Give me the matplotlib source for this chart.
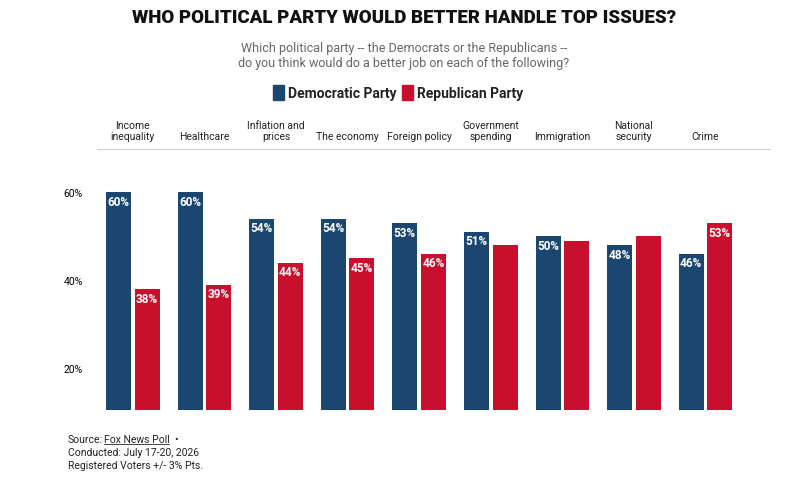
import numpy as np
import matplotlib.pyplot as plt

plt.rcParams["font.family"] = ["Roboto", "DejaVu Sans"]

issues = ["Income\ninequality", "Healthcare", "Inflation and\nprices", "The economy", "Foreign policy",
          "Government\nspending", "Immigration", "National\nsecurity", "Crime"]
dem = [60, 60, 54, 54, 53, 51, 50, 48, 46]
rep = [38, 39, 44, 45, 46, 48, 49, 50, 53]
dem_labels = ["60%", "60%", "54%", "54%", "53%", "51%", "50%", "48%", "46%"]
rep_labels = ["38%", "39%", "44%", "45%", "46%", "", "", "", "53%"]
yticks = [20, 40, 60]

blue = "#1b4670"
red = "#c8102e"

fig = plt.figure(figsize=(8.08, 4.85), dpi=100)
ax = fig.add_axes([97 / 808, 74 / 485, 673 / 808, 261 / 485])
x = np.arange(len(issues))
w = 0.35
off = 0.2
ax.bar(x - off, dem, w, color=blue)
ax.bar(x + off, rep, w, color=red)
for i in range(len(issues)):
    ax.text(x[i] - off, dem[i] - 0.6, dem_labels[i], ha="center", va="top",
            color="white", fontsize=8.5, fontweight="bold")
    if rep_labels[i]:
        ax.text(x[i] + off, rep[i] - 0.6, rep_labels[i], ha="center", va="top",
                color="white", fontsize=8.5, fontweight="bold")
    ax.text(x[i], 71.6, issues[i], ha="center", va="bottom", fontsize=7.5, color="#222222",
            linespacing=1.15)

ax.set_xlim(-0.5, 8.9)
ax.set_ylim(10.5, 69.8)
ax.set_yticks(yticks)
ax.set_yticklabels([f"{t}%" for t in yticks], fontsize=7.5)
ax.tick_params(length=0, pad=10)
ax.set_xticks([])
for s in ["left", "right", "bottom"]:
    ax.spines[s].set_visible(False)
ax.spines["top"].set_color("#cccccc")

fig.text(0.5, 0.963, "WHO POLITICAL PARTY WOULD BETTER HANDLE TOP ISSUES?", ha="center", va="center",
         fontsize=13.5, fontweight="black", color="#111111")
fig.text(0.5, 0.885, "Which political party -- the Democrats or the Republicans --\ndo you think would do a better job on each of the following?",
         ha="center", va="center", fontsize=9, color="#666666", linespacing=1.2)
fig.patches.append(plt.Rectangle((273 / 808, 1 - 101 / 485), 11 / 808, 15 / 485, color=blue, transform=fig.transFigure))
fig.text(288 / 808, 1 - 94 / 485, "Democratic Party", va="center", fontsize=10, fontweight="bold", color="#222222")
fig.patches.append(plt.Rectangle((402 / 808, 1 - 101 / 485), 11 / 808, 15 / 485, color=red, transform=fig.transFigure))
fig.text(417 / 808, 1 - 94 / 485, "Republican Party", va="center", fontsize=10, fontweight="bold", color="#222222")

fig.text(68 / 808, 1 - 440 / 485, "Source:", fontsize=7.5, color="#222222", va="center")
fig.text(104 / 808, 1 - 440 / 485, "Fox News Poll", fontsize=7.5, color="#222222", va="center")
fig.add_artist(plt.Line2D([104 / 808, 169 / 808], [1 - 445 / 485] * 2, color="#222222", lw=0.6))
fig.text(174 / 808, 1 - 440 / 485, "•", fontsize=7.5, color="#222222", va="center")
fig.text(68 / 808, 1 - 453 / 485, "Conducted: July 17-20, 2026", fontsize=7.5, color="#222222", va="center")
fig.text(68 / 808, 1 - 466 / 485, "Registered Voters +/- 3% Pts.", fontsize=7.5, color="#222222", va="center")

fig.savefig("out.png", dpi=100)
